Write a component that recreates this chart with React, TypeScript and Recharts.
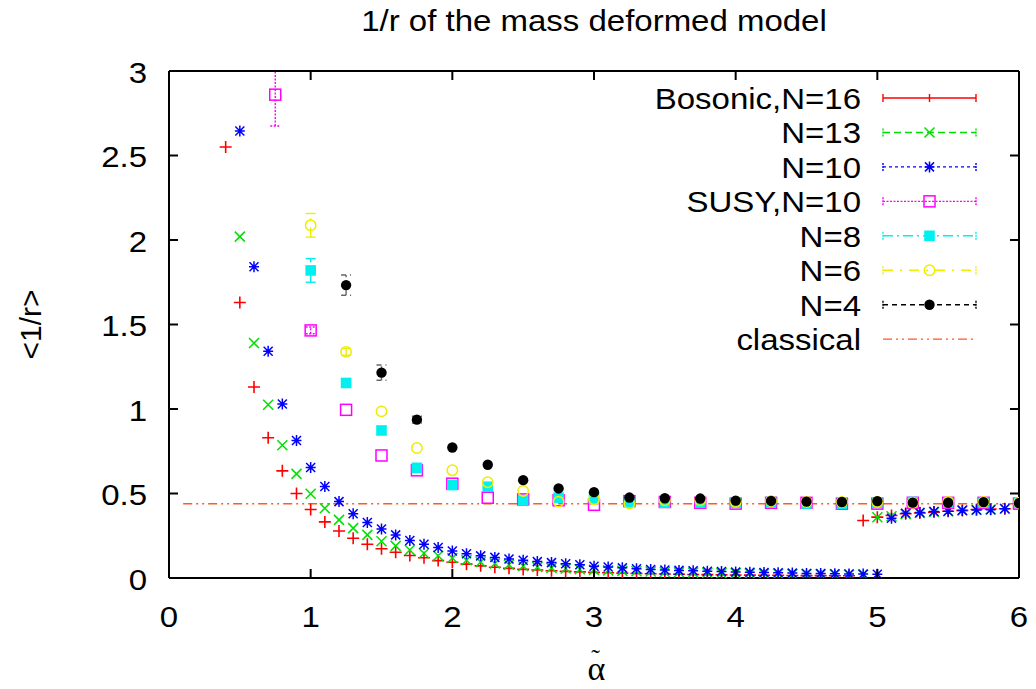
import React from "react";
import { ScatterChart, Scatter, XAxis, YAxis, ErrorBar, Legend } from "recharts";

// alpha grids
const alphaFine = [
  0.5, 0.6, 0.7, 0.8, 0.9, 1.0, 1.1, 1.2, 1.3, 1.4, 1.5, 1.6, 1.7, 1.8, 1.9, 2.0, 2.1, 2.2, 2.3, 2.4,
  2.5, 2.6, 2.7, 2.8, 2.9, 3.0, 3.1, 3.2, 3.3, 3.4, 3.5, 3.6, 3.7, 3.8, 3.9, 4.0, 4.1, 4.2, 4.3, 4.4,
  4.5, 4.6, 4.7, 4.8, 4.9, 5.0, 5.1, 5.2, 5.3, 5.4, 5.5, 5.6, 5.7, 5.8, 5.9,
];
const alphaCoarse = [
  0.75, 1.0, 1.25, 1.5, 1.75, 2.0, 2.25, 2.5, 2.75, 3.0, 3.25, 3.5, 3.75, 4.0, 4.25, 4.5, 4.75, 5.0,
  5.25, 5.5, 5.75, 6.0,
];

// bosonic runs: lower branch, then the upper branch near the classical value
const bosonic16Alpha = [0.4, ...alphaFine];
const bosonic16R = [
  2.55, 1.63, 1.13, 0.83, 0.634, 0.5, 0.405, 0.332, 0.278, 0.235, 0.2, 0.173, 0.152, 0.133, 0.12,
  0.103, 0.093, 0.082, 0.072, 0.064, 0.057, 0.051, 0.047, 0.043, 0.039, 0.036, 0.033, 0.031, 0.029,
  0.027, 0.025, 0.024, 0.022, 0.021, 0.02, 0.019, 0.018, 0.017, 0.016, 0.016, 0.015, 0.014, 0.014,
  0.013, 0.013,
  0.34, 0.36, 0.37, 0.38, 0.385, 0.39, 0.395, 0.4, 0.405, 0.408, 0.41,
];
const n13R = [
  2.02, 1.39, 1.025, 0.785, 0.616, 0.498, 0.413, 0.344, 0.295, 0.255, 0.218, 0.19, 0.166, 0.146,
  0.132, 0.118, 0.105, 0.095, 0.086, 0.078, 0.071, 0.065, 0.06, 0.056, 0.052, 0.048, 0.045, 0.042,
  0.04, 0.038, 0.036, 0.034, 0.032, 0.031, 0.029, 0.028, 0.027, 0.026, 0.025, 0.024, 0.023, 0.022,
  0.021, 0.02, 0.02,
  0.36, 0.365, 0.378, 0.385, 0.39, 0.395, 0.4, 0.403, 0.405, 0.41,
];
const n10R = [
  2.645, 1.842, 1.342, 1.03, 0.814, 0.654, 0.541, 0.452, 0.38, 0.328, 0.29, 0.255, 0.222, 0.2, 0.18,
  0.16, 0.143, 0.131, 0.122, 0.112, 0.105, 0.097, 0.091, 0.084, 0.078, 0.07, 0.065, 0.06, 0.055,
  0.05, 0.047, 0.045, 0.043, 0.04, 0.038, 0.036, 0.034, 0.032, 0.031, 0.029, 0.027, 0.026, 0.025,
  0.024, 0.023, 0.022,
  0.354, 0.383, 0.387, 0.393, 0.395, 0.4, 0.402, 0.404, 0.41,
];

// supersymmetric runs; errors as [below, above], the first bar runs off the top of the frame
const susy10R = [
  2.86, 1.465, 0.995, 0.725, 0.637, 0.558, 0.475, 0.465, 0.46, 0.433, 0.455, 0.45, 0.445, 0.44,
  0.445, 0.445, 0.44, 0.44, 0.445, 0.445, 0.445, 0.44,
];
const susy10Err = [[0.185, 0.14], [0.02, 0.02]];
const n8R = [
  1.82, 1.154, 0.873, 0.652, 0.55, 0.54, 0.46, 0.475, 0.47, 0.45, 0.445, 0.445, 0.445, 0.45, 0.44,
  0.44, 0.445, 0.45, 0.445, 0.445, 0.445,
];
const n8Err = [[0.07, 0.07], [0.02, 0.02]];
const n6R = [
  2.087, 1.338, 0.986, 0.769, 0.638, 0.567, 0.515, 0.452, 0.466, 0.44, 0.46, 0.46, 0.45, 0.455,
  0.45, 0.45, 0.45, 0.445, 0.45, 0.45, 0.445,
];
const n6Err = [[0.07, 0.07], [0.02, 0.02]];
const n4R = [
  1.733, 1.215, 0.937, 0.772, 0.67, 0.579, 0.53, 0.508, 0.476, 0.472, 0.47, 0.458, 0.456, 0.452,
  0.45, 0.455, 0.446, 0.445, 0.449, 0.443,
];
const n4Err = [[0.06, 0.06], [0.045, 0.045], [0.02, 0.02]];

const classicalAlpha = [0.1, 6.0];
const classicalR = [0.44, 0.44];

const xTicks = [0, 1, 2, 3, 4, 5, 6];
const yTicks = [0, 0.5, 1, 1.5, 2, 2.5, 3];

const pts = (xs: number[], ys: number[], errs: number[][] = []) =>
  ys.map((y, i) => ({ x: xs[i], y, err: errs[i] ?? null }));

const FONT = "'Liberation Sans', Arial, Helvetica, sans-serif";
const SERIF = "'Liberation Serif', 'DejaVu Serif', serif";
const STRETCH = 1.1;
const TICK = 9;

type MarkProps = { cx?: number; cy?: number; color: string };

const PlusMark = ({ cx = 0, cy = 0, color }: MarkProps) => (
  <path d={`M${cx - 6},${cy}h12M${cx},${cy - 6}v12`} stroke={color} strokeWidth={1.6} fill="none" />
);
const CrossMark = ({ cx = 0, cy = 0, color }: MarkProps) => (
  <path d={`M${cx - 5},${cy - 5}l10,10M${cx - 5},${cy + 5}l10,-10`} stroke={color} strokeWidth={1.5} fill="none" />
);
const StarMark = ({ cx = 0, cy = 0, color }: MarkProps) => (
  <path
    d={`M${cx - 5},${cy}h10M${cx},${cy - 5.5}v11M${cx - 4.5},${cy - 4.5}l9,9M${cx - 4.5},${cy + 4.5}l9,-9`}
    stroke={color}
    strokeWidth={1.5}
    fill="none"
  />
);
const OpenSquare = ({ cx = 0, cy = 0, color }: MarkProps) => (
  <rect x={cx - 5.5} y={cy - 5.5} width={11} height={11} stroke={color} strokeWidth={1.5} fill="none" />
);
const FilledSquare = ({ cx = 0, cy = 0, color }: MarkProps) => (
  <rect x={cx - 5.3} y={cy - 5.3} width={10.6} height={10.6} fill={color} />
);
const OpenCircle = ({ cx = 0, cy = 0, color }: MarkProps) => (
  <circle cx={cx} cy={cy} r={5.2} stroke={color} strokeWidth={1.5} fill="none" />
);
const FilledCircle = ({ cx = 0, cy = 0, color }: MarkProps) => <circle cx={cx} cy={cy} r={5.2} fill={color} />;

const series = [
  { name: "Bosonic,N=16", color: "#ff0000", dash: undefined, Mark: PlusMark, data: pts(bosonic16Alpha, bosonic16R) },
  { name: "N=13", color: "#00e000", dash: "7 4", Mark: CrossMark, data: pts(alphaFine, n13R) },
  { name: "N=10", color: "#0000ff", dash: "3 3", Mark: StarMark, data: pts(alphaFine, n10R) },
  { name: "SUSY,N=10", color: "#ff00ff", dash: "2 1.5", Mark: OpenSquare, data: pts(alphaCoarse, susy10R, susy10Err) },
  { name: "N=8", color: "#00f0f0", dash: "10 4 2 4", Mark: FilledSquare, data: pts(alphaCoarse.slice(1), n8R, n8Err) },
  { name: "N=6", color: "#eeee00", dash: "10 7 2 7", Mark: OpenCircle, data: pts(alphaCoarse.slice(1), n6R, n6Err) },
  { name: "N=4", color: "#000000", dash: "5 4", Mark: FilledCircle, data: pts(alphaCoarse.slice(2), n4R, n4Err) },
];
const classical = { name: "classical", color: "#ff5a1f", dash: "9 4 2 4 2 4", data: pts(classicalAlpha, classicalR) };

const StretchText = ({ x, y, anchor, size = 30, children }: any) => (
  <text
    transform={`translate(${x},${y}) scale(${STRETCH},1)`}
    textAnchor={anchor}
    fontFamily={FONT}
    fontSize={size}
    fill="#000"
  >
    {children}
  </text>
);

// all axes are mirrored, so the tick props give the inner end of each 9px tick;
// the tick mark is drawn here and the label pushed back outside the frame
const tickPen = { stroke: "#000000", strokeWidth: 2, fill: "none" };
const renderBottomTick = (p: any) => (
  <g>
    <path d={`M${p.x},${p.y}V${p.y + TICK}`} {...tickPen} />
    <StretchText x={p.x} y={p.y + 57.5} anchor="middle">
      {p.payload.value}
    </StretchText>
  </g>
);
const renderLeftTick = (p: any) => (
  <g>
    <path d={`M${p.x - TICK},${p.y}H${p.x}`} {...tickPen} />
    <StretchText x={p.x - 31} y={p.y + 11.5} anchor="end">
      {p.payload.value}
    </StretchText>
  </g>
);
const renderTopTick = (p: any) => <path d={`M${p.x},${p.y - TICK}V${p.y}`} {...tickPen} />;
const renderRightTick = (p: any) => <path d={`M${p.x},${p.y}H${p.x + TICK}`} {...tickPen} />;
const noMark = () => <g />;

const renderTitle = (p: any) => {
  const vb = p.viewBox || { x: 169, width: 850 };
  return (
    <StretchText x={vb.x + vb.width / 2} y={31} anchor="middle">
      1/r of the mass deformed model
    </StretchText>
  );
};
const renderYLabel = (p: any) => {
  const vb = p.viewBox || { y: 71, height: 507 };
  return (
    <text
      transform={`translate(41,${vb.y + vb.height / 2}) rotate(-90)`}
      textAnchor="middle"
      fontFamily={FONT}
      fontSize={30}
      fill="#000"
    >
      {"<1/r>"}
    </text>
  );
};
const renderXLabel = (p: any) => {
  const vb = p.viewBox || { x: 169, width: 850 };
  const cx = vb.x + vb.width / 2 + 3;
  return (
    <text x={cx - 9.5} y={680} fontFamily={SERIF} fontSize={34} fill="#000">
      α
      <tspan dx={-14} dy={-13} fontSize={26}>
        ˜
      </tspan>
    </text>
  );
};

const renderLegend = () => {
  const rows = [...series, { ...classical, Mark: null as any }];
  return (
    <svg width={1036} height={689} style={{ position: "absolute", left: 0, top: 0 }}>
      {rows.map((s, i) => {
        const y = 98 + i * 34.45;
        const caps = s.name !== "classical";
        return (
          <g key={s.name}>
            <StretchText x={861} y={y + 11} anchor="end">
              {s.name}
            </StretchText>
            <line x1={883} x2={976} y1={y} y2={y} stroke={s.color} strokeWidth={1.4} strokeDasharray={s.dash} />
            {caps && (
              <path d={`M883,${y - 4}v8M976,${y - 4}v8`} stroke={s.color} strokeWidth={1.4} strokeDasharray={s.dash ? "2 1" : undefined} />
            )}
            {s.name === "Bosonic,N=16" && <path d={`M929.5,${y - 4}v8`} stroke={s.color} strokeWidth={1.4} />}
            {s.Mark && s.name !== "Bosonic,N=16" && <s.Mark cx={929.5} cy={y} color={s.color} />}
          </g>
        );
      })}
    </svg>
  );
};

const frame = { stroke: "#000", strokeWidth: 2 };

export default function App() {
  return (
    <div style={{ position: "absolute", left: 0, top: 0, background: "#fff" }}>
      <ScatterChart width={1036} height={689} margin={{ top: 71, right: 17, bottom: 111, left: 169 }}>
        <XAxis
          type="number"
          dataKey="x"
          domain={[0, 6]}
          ticks={xTicks}
          interval={0}
          allowDataOverflow
          mirror
          height={30}
          tickSize={TICK}
          tickMargin={0}
          axisLine={frame}
          tickLine={false}
          tick={renderBottomTick}
          label={renderXLabel}
        />
        <XAxis
          xAxisId="top"
          orientation="top"
          type="number"
          dataKey="x"
          domain={[0, 6]}
          ticks={xTicks}
          interval={0}
          allowDataOverflow
          mirror
          height={30}
          tickSize={TICK}
          tickMargin={0}
          axisLine={frame}
          tickLine={false}
          tick={renderTopTick}
          label={renderTitle}
        />
        <YAxis
          type="number"
          dataKey="y"
          domain={[0, 3]}
          ticks={yTicks}
          interval={0}
          allowDataOverflow
          mirror
          width={30}
          tickSize={TICK}
          tickMargin={0}
          axisLine={frame}
          tickLine={false}
          tick={renderLeftTick}
          label={renderYLabel}
        />
        <YAxis
          yAxisId="right"
          orientation="right"
          type="number"
          dataKey="y"
          domain={[0, 3]}
          ticks={yTicks}
          interval={0}
          allowDataOverflow
          mirror
          width={30}
          tickSize={TICK}
          tickMargin={0}
          axisLine={frame}
          tickLine={false}
          tick={renderRightTick}
        />
        {/* the classical value; also bound to the top/right axes so they carry ticks */}
        <Scatter
          name={classical.name}
          data={classical.data}
          line={{ stroke: classical.color, strokeWidth: 1.5, strokeDasharray: classical.dash }}
          shape={noMark}
          isAnimationActive={false}
        />
        <Scatter
          name="frame"
          xAxisId="top"
          yAxisId="right"
          data={classical.data}
          shape={noMark}
          legendType="none"
          isAnimationActive={false}
        />
        {series.map((s) => (
          <Scatter
            key={s.name}
            name={s.name}
            data={s.data}
            shape={(p: any) => <s.Mark cx={p.cx} cy={p.cy} color={s.color} />}
            isAnimationActive={false}
          >
            {s.data.some((d) => d.err !== null) && (
              <ErrorBar
                dataKey="err"
                direction="y"
                width={5}
                stroke={s.color === "#000000" ? "#666" : s.color}
                strokeWidth={1.4}
                strokeDasharray={s.dash}
              />
            )}
          </Scatter>
        ))}
        <Legend
          content={renderLegend}
          layout="horizontal"
          verticalAlign="middle"
          align="center"
          wrapperStyle={{ position: "absolute", left: 0, top: 0, width: 1036, height: 689, pointerEvents: "none" }}
        />
      </ScatterChart>
    </div>
  );
}
